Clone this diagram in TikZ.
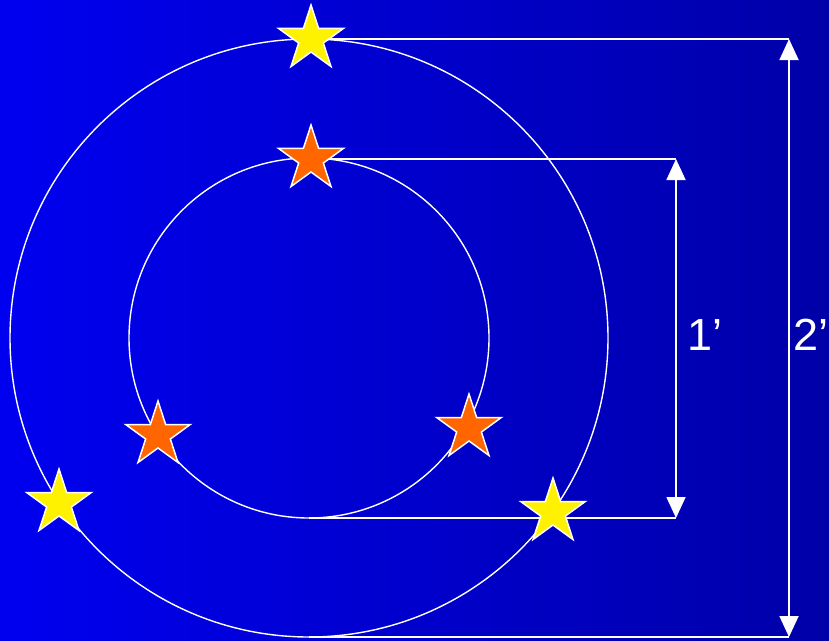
\documentclass[tikz,border=0pt]{standalone}
\usepackage{fontspec}
\setmainfont{Liberation Sans}
\usetikzlibrary{shapes.geometric,arrows.meta,backgrounds}
\definecolor{bgleft}{RGB}{0,0,240}
\definecolor{bgright}{RGB}{0,0,168}
\definecolor{starorange}{RGB}{255,102,0}

\begin{document}
\begin{tikzpicture}[x=1pt,y=-1pt]
	\tikzstyle{ring} = [draw=white, line width=1.4pt]
	\tikzstyle{bigstar} = [star, star points=5, star point ratio=2.618, minimum size=68pt, inner sep=0pt, draw=white, line width=1.5pt]
	\tikzstyle{dim} = [draw=white, line width=1.8pt]
	\tikzstyle{dimarrow} = [dim, {Triangle[width=19pt,length=21pt]}-{Triangle[width=19pt,length=21pt]}]
	\tikzstyle{size} = [text=white, font=\fontsize{45}{50}\selectfont, anchor=west, inner sep=0pt]

	\useasboundingbox (0,0) rectangle (829,640);

	% Two rings
	\draw[ring] (309,338) circle[radius=299pt];
	\draw[ring] (309,338) circle[radius=180pt];

	% Stars on the rings
	\node[bigstar, fill=yellow] (Y1) at (311,39) {};
	\node[bigstar, fill=yellow] (Y2) at (59,503) {};
	\node[bigstar, fill=yellow] (Y3) at (553,512) {};
	\node[bigstar, fill=starorange] (R1) at (311,159) {};
	\node[bigstar, fill=starorange] (R2) at (158,435) {};
	\node[bigstar, fill=starorange] (R3) at (469,428) {};

	% Dimension ends
	\coordinate (innerlow) at (309,518);
	\coordinate (outerlow) at (309,637);
	\coordinate (A1) at (676,159);
	\coordinate (A2) at (676,518);
	\coordinate (B1) at (789,39);
	\coordinate (B2) at (789,637);

	% Background and dimension lines behind the stars
	\begin{pgfonlayer}{background}
	\shade[left color=bgleft, right color=bgright] (0,0) rectangle (829,640);
	\draw[dim] (R1.center) -- (A1);
	\draw[dim] (innerlow) -- (A2);
	\draw[dimarrow] (A1) -- (A2);
	\draw[dim] (Y1.center) -- (B1);
	\draw[dim] (outerlow) -- (B2);
	\draw[dimarrow] (B1) -- (B2);
	\end{pgfonlayer}

	% Labels
	\node[size] (L1) at (687,335) {1’};
	\node[size] (L2) at (793,335) {2’};
\end{tikzpicture}
\end{document}
